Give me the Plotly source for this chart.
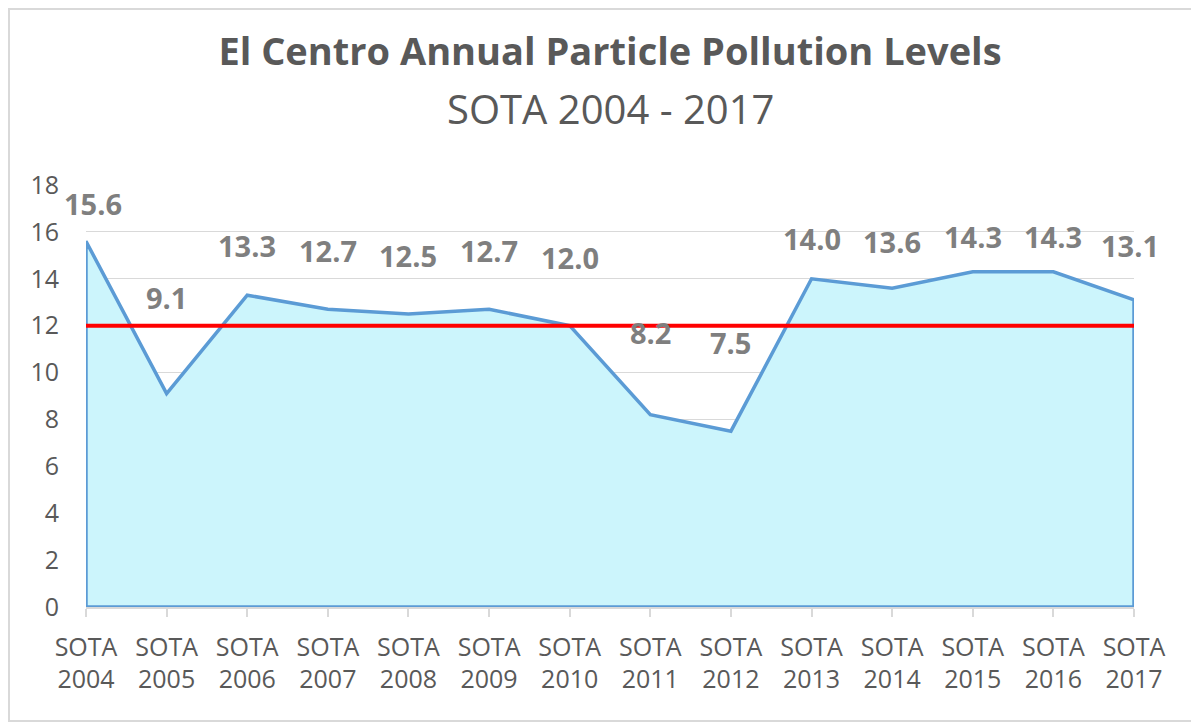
import plotly.graph_objects as go

categories = ["SOTA<br>2004", "SOTA<br>2005", "SOTA<br>2006", "SOTA<br>2007", "SOTA<br>2008",
              "SOTA<br>2009", "SOTA<br>2010", "SOTA<br>2011", "SOTA<br>2012", "SOTA<br>2013",
              "SOTA<br>2014", "SOTA<br>2015", "SOTA<br>2016", "SOTA<br>2017"]
values = [15.6, 9.1, 13.3, 12.7, 12.5, 12.7, 12.0, 8.2, 7.5, 14.0, 13.6, 14.3, 14.3, 13.1]
standard = 12
label_y = [17.2, 13.2, 15.4, 15.2, 15.0, 15.2, 14.9, 11.7, 11.3, 15.7, 15.6, 15.8, 15.8, 15.4]
y_ticks = [0, 2, 4, 6, 8, 10, 12, 14, 16, 18]

idx = list(range(len(categories)))
FONT = "Open Sans"
W, H = 1199, 723
ML, MR, MT, MB = 78, 73, 177, 124
PW, PH = W - ML - MR, H - MT - MB

fig = go.Figure()
fig.add_trace(go.Scatter(
    x=[idx[0]] + idx + [idx[-1], idx[0]],
    y=[0] + values + [0, 0],
    mode="lines", fill="toself", fillcolor="#ccf5fc",
    line=dict(color="#5b9bd5", width=3.5), hoverinfo="skip", showlegend=False))
fig.add_trace(go.Scatter(
    x=[idx[0], idx[-1]], y=[standard, standard], mode="lines",
    line=dict(color="#ff0000", width=4), showlegend=False))

annotations = []
for i, (v, ly) in enumerate(zip(values, label_y)):
    annotations.append(dict(
        x=i, y=ly, xref="x", yref="y", text=f"<b>{v:.1f}</b>", showarrow=False,
        xanchor="center", yanchor="middle",
        xshift=7 if i == 0 else (-4 if i == len(values) - 1 else 0),
        font=dict(family=FONT, size=29, color="#7f7f7f")))
annotations.append(dict(
    text="SOTA 2004 - 2017", xref="paper", yref="paper",
    x=0.5, y=1 + (185 - 108) / PH, xanchor="center", yanchor="middle",
    showarrow=False, font=dict(family=FONT, size=40, color="#595959")))

fig.update_layout(
    width=W, height=H,
    margin=dict(l=ML, r=MR, t=MT, b=MB),
    paper_bgcolor="white", plot_bgcolor="white",
    title=dict(text="<b>El Centro Annual Particle Pollution Levels</b>",
               x=0.5, xanchor="center", xref="paper",
               y=1 - 44 / H, yanchor="middle", yref="container",
               font=dict(family=FONT, size=38, color="#595959")),
    annotations=annotations,
    shapes=[dict(type="rect", xref="paper", yref="paper",
                 x0=-(ML - 1) / PW, x1=1 + (1186 - ML - PW) / PW,
                 y0=-(H - 10 - MT - PH) / PH, y1=1 + (MT - 1) / PH,
                 line=dict(color="#d9d9d9", width=2), layer="below")],
    showlegend=False,
)
fig.update_xaxes(
    range=[idx[0], idx[-1]], tickvals=idx, ticktext=categories,
    showgrid=False, zeroline=False,
    showline=True, linecolor="#d9d9d9", linewidth=1.5,
    ticks="outside", ticklen=8, tickcolor="#d9d9d9", tickwidth=1.5,
    tickfont=dict(family=FONT, size=25, color="#595959"),
    ticklabelstandoff=9)
fig.update_yaxes(
    range=[0, 18], tickvals=y_ticks,
    showgrid=True, gridcolor="#d9d9d9", gridwidth=1.2, zeroline=False,
    showline=False, ticks="",
    tickfont=dict(family=FONT, size=25, color="#595959"),
    ticklabelstandoff=26)

fig.write_html("out.html")
